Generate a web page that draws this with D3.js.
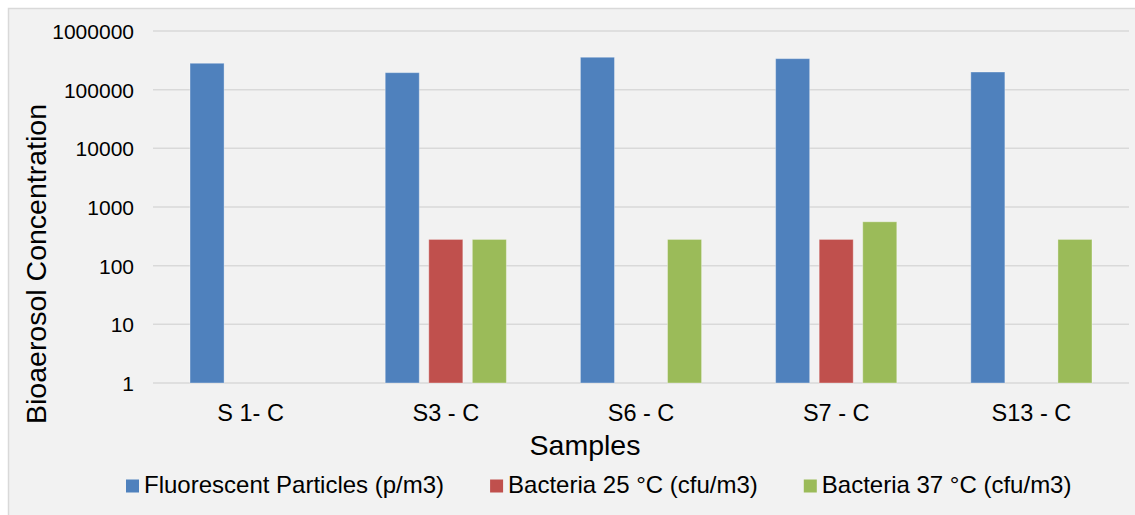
<!DOCTYPE html>
<html>
<head>
<meta charset="utf-8">
<script src="https://cdn.jsdelivr.net/npm/d3@7"></script>
<style>
  html, body { margin: 0; padding: 0; background: #ffffff; }
  svg { display: block; }
  text { font-family: "Liberation Sans", Arial, sans-serif; fill: #000; }
</style>
</head>
<body>
<svg id="chart" width="1135" height="515"></svg>
<script>
const categories = ["S 1- C", "S3 - C", "S6 - C", "S7 - C", "S13 - C"];
const seriesNames = ["Fluorescent Particles (p/m3)", "Bacteria 25 °C (cfu/m3)", "Bacteria 37 °C (cfu/m3)"];
const fluorescent = [282000, 195000, 357000, 338000, 200000];
const bacteria25 = [null, 280, null, 280, null];
const bacteria37 = [null, 280, 280, 560, 280];
const tickValues = [1, 10, 100, 1000, 10000, 100000, 1000000];
const colors = ["#4f81bd", "#c0504d", "#9bbb59"];

const seriesValues = [fluorescent, bacteria25, bacteria37];

const svg = d3.select("#chart");

// chart area background + border
svg.append("rect")
  .attr("x", 8.5).attr("y", 8.5)
  .attr("width", 1160).attr("height", 540)
  .attr("fill", "#f2f2f2")
  .attr("stroke", "#d9d9d9")
  .attr("stroke-width", 1.5);

const plot = { left: 153, right: 1129, top: 31, bottom: 383 };

const x0 = d3.scaleBand().domain(categories).range([plot.left, plot.right]).paddingInner(0).paddingOuter(0);
const x1 = d3.scaleBand().domain(seriesNames).range([0, x0.bandwidth()]).paddingInner(0.218).paddingOuter(0.85);
const y = d3.scaleLog().domain([1, 1000000]).range([plot.bottom, plot.top]);

// gridlines
svg.append("g").selectAll("line").data(tickValues).join("line")
  .attr("x1", plot.left).attr("x2", plot.right)
  .attr("y1", d => y(d)).attr("y2", d => y(d))
  .attr("stroke", "#d9d9d9").attr("stroke-width", 1.5);

// y axis labels via d3 axis
const yAxis = d3.axisLeft(y).tickValues(tickValues).tickFormat(d3.format("d")).tickSize(0).tickPadding(0);
const yg = svg.append("g").attr("transform", `translate(${134},0)`).call(yAxis);
yg.select(".domain").remove();
yg.selectAll("text")
  .style("font-family", '"Liberation Sans", Arial, sans-serif')
  .style("font-size", "21px").attr("fill", "#000").attr("dy", "0.36em");

// x axis labels via d3 axis
const xAxis = d3.axisBottom(x0).tickSize(0).tickPadding(0);
const xg = svg.append("g").attr("transform", `translate(0,${plot.bottom})`).call(xAxis);
xg.select(".domain").remove();
xg.selectAll("text")
  .style("font-family", '"Liberation Sans", Arial, sans-serif')
  .style("font-size", "23.5px").attr("fill", "#000").attr("dy", null).attr("y", 38);

// bars
const data = [];
categories.forEach((c, i) => {
  seriesNames.forEach((s, j) => {
    const v = seriesValues[j][i];
    if (v != null) data.push({ c, s, v, j });
  });
});
svg.append("g").selectAll("rect").data(data).join("rect")
  .attr("x", d => x0(d.c) + x1(d.s))
  .attr("width", x1.bandwidth())
  .attr("y", d => y(d.v))
  .attr("height", d => y(1) - y(d.v))
  .attr("fill", d => colors[d.j])
  .attr("stroke", "rgba(255,255,255,0.35)")
  .attr("stroke-width", 1);

// axis titles
svg.append("text")
  .attr("transform", "translate(46,264) rotate(-90)")
  .attr("text-anchor", "middle")
  .style("font-size", "28.5px")
  .text("Bioaerosol Concentration");

svg.append("text")
  .attr("x", 585).attr("y", 455)
  .attr("text-anchor", "middle")
  .style("font-size", "28.5px")
  .text("Samples");

// legend
const legend = svg.append("g");
let lx = 126;
seriesNames.forEach((s, j) => {
  legend.append("rect")
    .attr("x", lx).attr("y", 479.5)
    .attr("width", 13).attr("height", 13)
    .attr("fill", colors[j]);
  const t = legend.append("text")
    .attr("x", lx + 18).attr("y", 493)
    .style("font-size", "24px")
    .text(s);
  const w = t.node().getComputedTextLength();
  lx = lx + 18 + w + 46;
});
</script>
</body>
</html>
